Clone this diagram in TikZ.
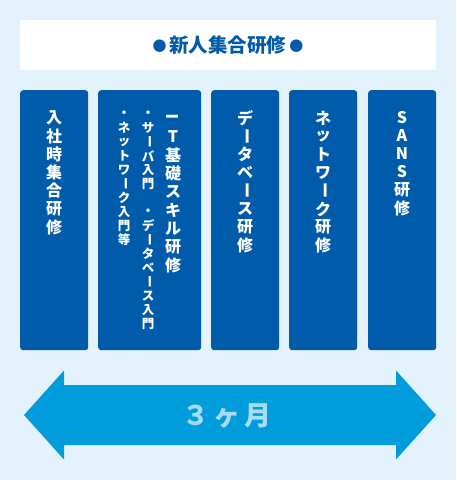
\documentclass[tikz,border=0pt]{standalone}
\usepackage{fontspec}
\setmainfont{Noto Sans CJK JP}
\usepackage{graphicx}
\definecolor{bgc}{HTML}{E4F3FB}
\definecolor{colblue}{HTML}{005BAB}
\definecolor{arrblue}{HTML}{009CDB}
\definecolor{arrtext}{HTML}{A6DCF5}
\newcommand\vbar{\rotatebox[origin=c]{-90}{ー}}
\newcommand\vI{\rotatebox[origin=c]{90}{I}}
\newcommand\tdot{\raisebox{1pt}{\fontsize{14}{14}\selectfont ●}}
\newcommand\vstack[6]{%
  \foreach \ch [count=\i from 0] in {#6}
    \node[#5] (#1-\i) at ({#2},{#3+\i*#4}) {\ch};%
}
\begin{document}
\begin{tikzpicture}[x=1pt,y=-1pt,
  colbox/.style={fill=colblue,rounded corners=3pt,inner sep=0,anchor=north west,minimum height=260pt},
  vmain/.style={text=white,font=\bfseries\fontsize{16}{18}\selectfont,inner sep=0},
  vsub/.style={text=white,font=\bfseries\fontsize{12.5}{14}\selectfont,inner sep=0}]
\fill[bgc] (0,0) rectangle (456,480);
\useasboundingbox (0,0) rectangle (456,480);
\node[fill=white,inner sep=0,anchor=north west,minimum width=416pt,minimum height=50pt] (title) at (20,20) {};
\node[text=colblue,font=\bfseries\fontsize{19.5}{20}\selectfont,inner sep=0] (titletext) at (228,45)
  {\tdot\hspace{3pt}新人集合研修\hspace{3pt}\tdot};
% columns
\node[colbox,minimum width=68pt] (c1) at (20,90) {};
\node[colbox,minimum width=103pt] (c2) at (98,90) {};
\node[colbox,minimum width=68pt] (c3) at (211,90) {};
\node[colbox,minimum width=68pt] (c4) at (289,90) {};
\node[colbox,minimum width=68pt] (c5) at (368,90) {};
% vertical texts
\vstack{t1}{54}{118}{18.2}{vmain}{入,社,時,集,合,研,修}
\vstack{t2}{173}{118}{18.4}{vmain}{\vI,T,基,礎,ス,キ,ル,研,修}
\vstack{s2a}{148}{114}{14}{vsub}{・,サ,\vbar,バ,入,門}
\vstack{s2b}{148}{212}{14}{vsub}{・,デ,\vbar,タ,ベ,\vbar,ス,入,門}
\vstack{s2c}{124}{114}{14}{vsub}{・,ネ,ッ,ト,ワ,\vbar,ク,入,門,等}
\vstack{t3}{245}{118}{18.2}{vmain}{デ,\vbar,タ,ベ,\vbar,ス,研,修}
\vstack{t4}{323}{118}{18.2}{vmain}{ネ,ッ,ト,ワ,\vbar,ク,研,修}
\vstack{t5}{402}{118}{18}{vmain}{S,A,N,S,研,修}
% arrow
\fill[arrblue] (24,415) -- (64,370.5) -- (64,385) -- (396,385) -- (396,370.5) -- (436,415)
  -- (396,459.5) -- (396,445) -- (64,445) -- (64,459.5) -- cycle;
\node[text=arrtext,font=\bfseries\fontsize{27}{28}\selectfont,inner sep=0] (dur) at (227,416) {３\hspace{4pt}ヶ\hspace{4pt}月};
\end{tikzpicture}
\end{document}
